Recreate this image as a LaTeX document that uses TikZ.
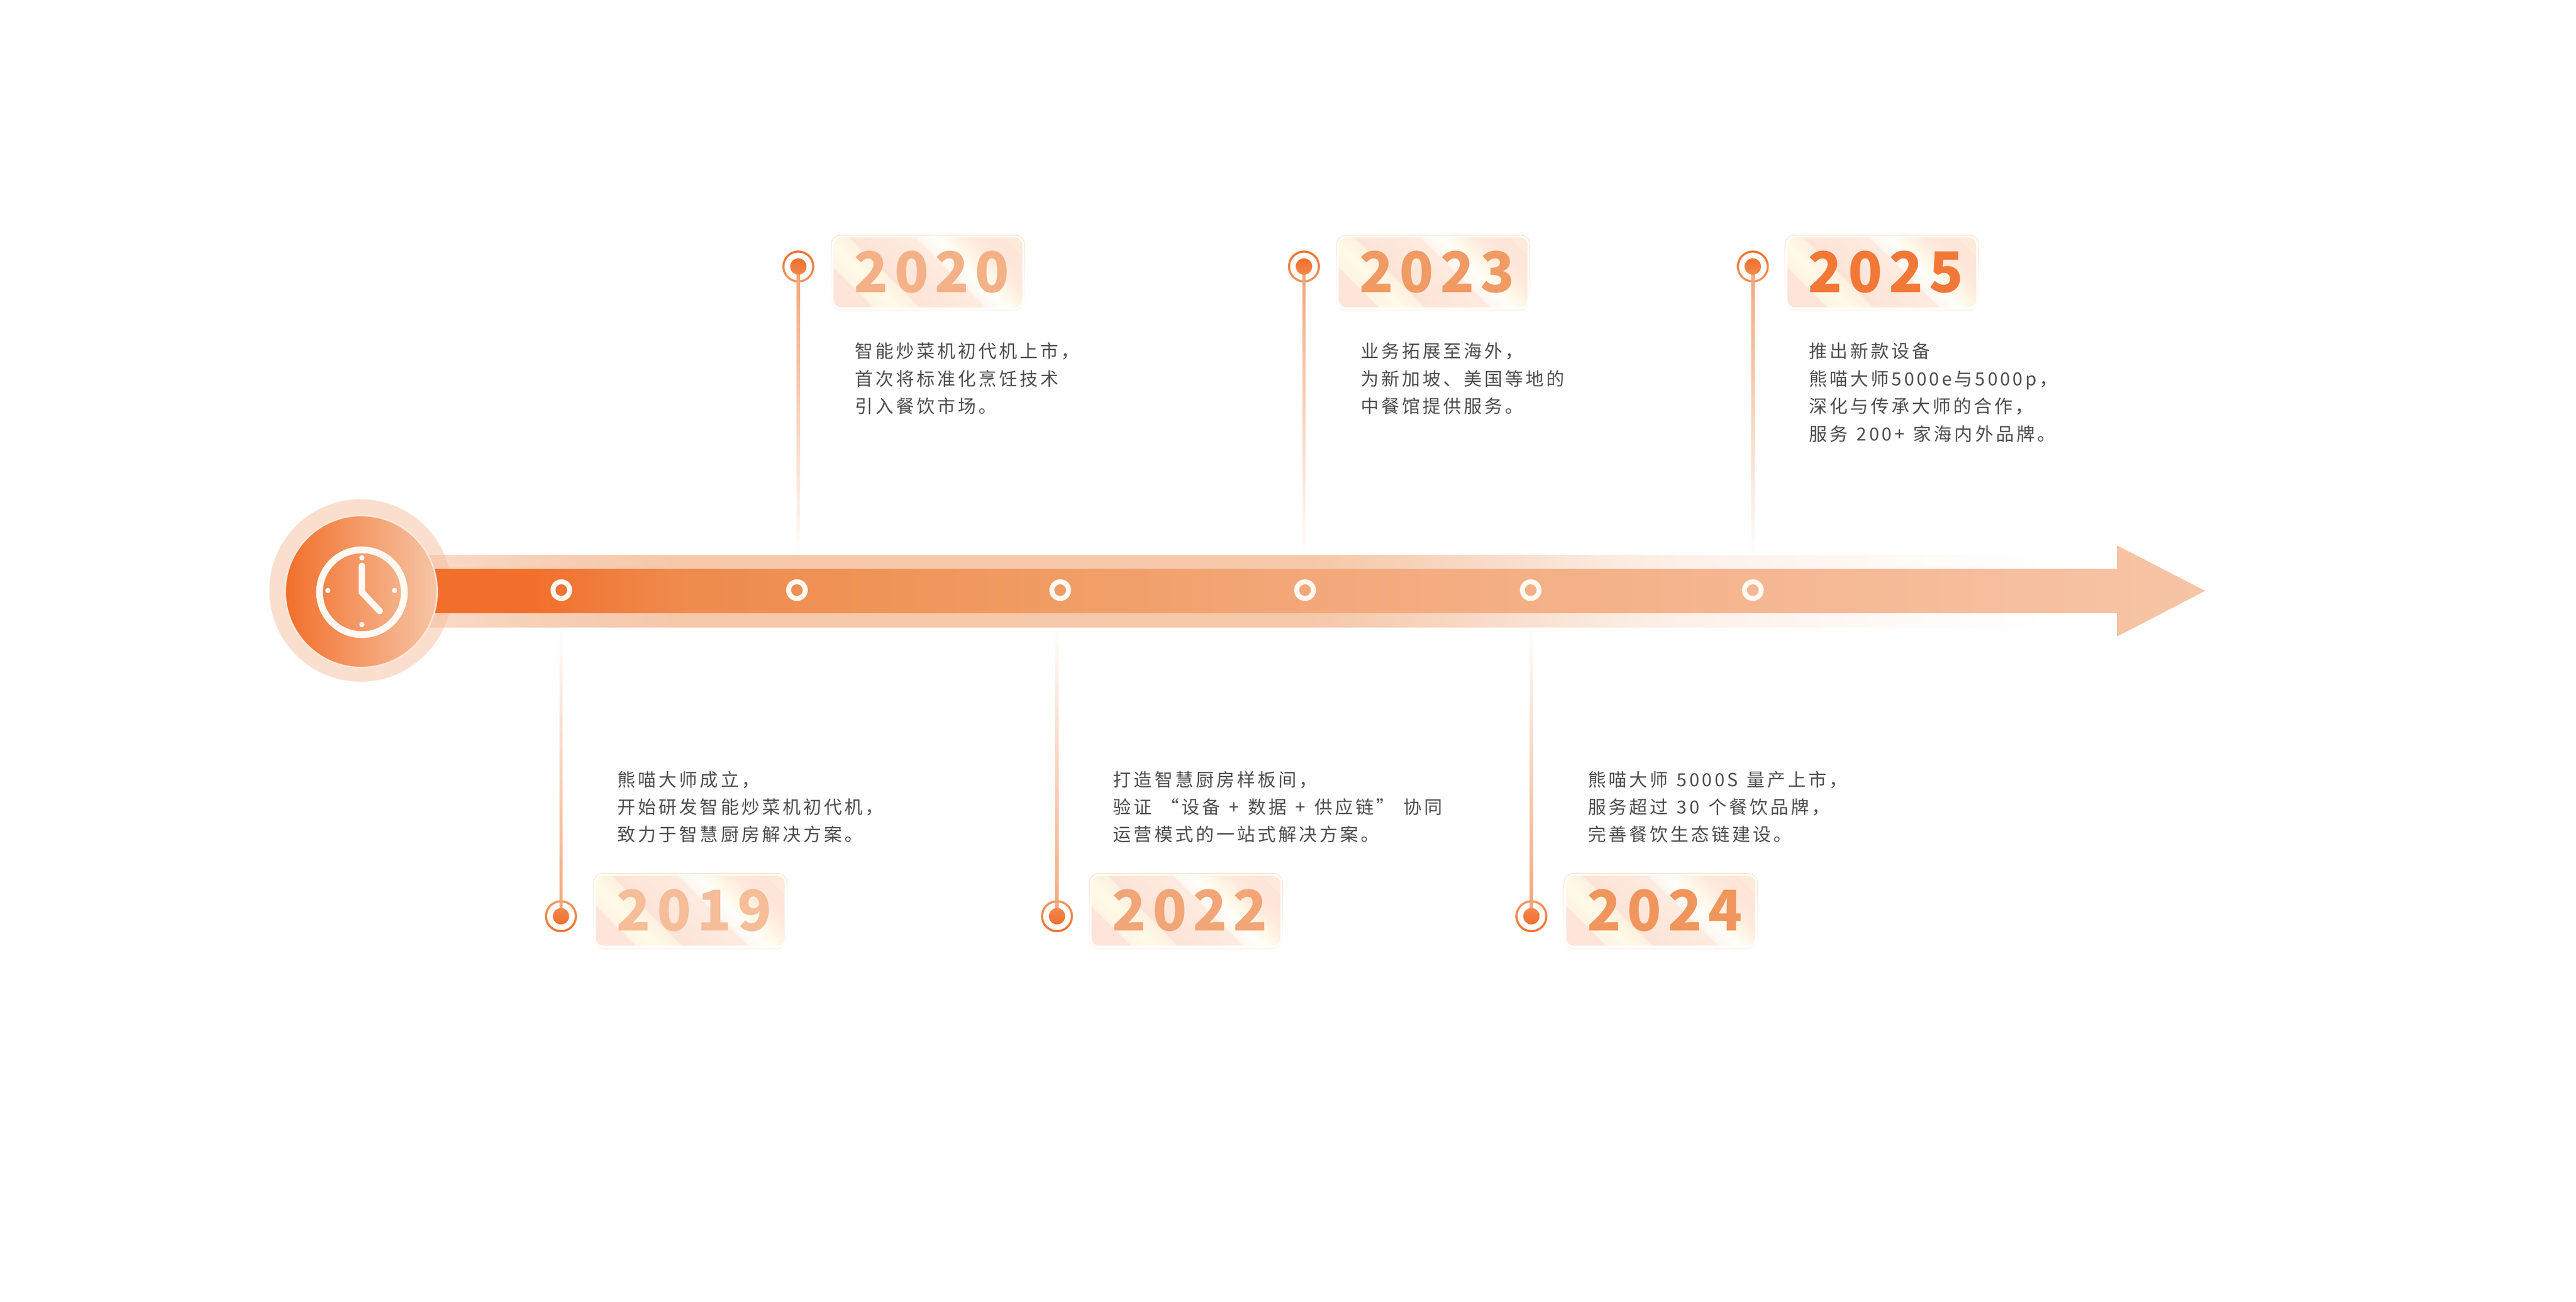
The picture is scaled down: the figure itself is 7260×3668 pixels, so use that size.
\documentclass[tikz,border=0pt]{standalone}
\usepackage{fontspec}
\usepackage{xcolor}
\usetikzlibrary{calc}
\usetikzlibrary{fadings}
\usetikzlibrary{shadows}

\newfontfamily\cjk[LetterSpace=14,WordSpace=1.35]{Noto Sans CJK SC}
\newfontfamily\yearfont[LetterSpace=11]{Noto Sans CJK SC}

\definecolor{ink}{HTML}{4D4D4D}
\definecolor{cream}{HTML}{FEF9F2}
\definecolor{deep}{HTML}{F26F2B}
\definecolor{stemc}{HTML}{F3A476}
\definecolor{rimc}{HTML}{FAC39B}
\definecolor{ringsoft}{HTML}{F29660}
\definecolor{dotsoft}{HTML}{F0884D}

\definecolor{ma}{HTML}{F26F2B}
\definecolor{mb}{HTML}{EE8A4C}
\definecolor{mc}{HTML}{F09B62}
\definecolor{md}{HTML}{F3A87A}
\definecolor{me}{HTML}{F5B690}
\definecolor{mf}{HTML}{F6C5A6}
\pgfdeclarehorizontalshading{mainband}{100bp}{color(0bp)=(ma); color(27.8bp)=(ma); color(31.8bp)=(mb); color(41.8bp)=(mc); color(49.8bp)=(md); color(61.8bp)=(me); color(75bp)=(mf); color(100bp)=(mf)}

\definecolor{la}{HTML}{F9DAC8}
\definecolor{lb}{HTML}{F7D0B8}
\definecolor{lc}{HTML}{F5C8A9}
\definecolor{ld}{HTML}{F7D3BB}
\definecolor{le}{HTML}{F9E0D0}
\definecolor{lf}{HTML}{FBEDE3}
\definecolor{lg}{HTML}{FDF3EE}
\definecolor{lh}{HTML}{FEF9F6}
\pgfdeclarehorizontalshading{softband}{100bp}{color(0bp)=(la); color(25bp)=(la); color(28.2bp)=(lb); color(32.6bp)=(lc); color(52.2bp)=(lc); color(55.5bp)=(ld); color(58.8bp)=(le); color(62.1bp)=(lf); color(65.3bp)=(lg); color(69.7bp)=(lh); color(75bp)=(white); color(100bp)=(white)}

\definecolor{ga}{HTML}{FEE4D9}
\definecolor{gb}{HTML}{FFF4E3}
\definecolor{gc}{HTML}{FFFAE7}
\definecolor{gd}{HTML}{FEF0DF}
\definecolor{ge}{HTML}{FDE3D7}
\definecolor{gf}{HTML}{FEEBDF}
\definecolor{gg}{HTML}{FDF6EF}
\definecolor{gh}{HTML}{FFFEFA}
\definecolor{gi}{HTML}{FFF8E8}
\definecolor{gj}{HTML}{FEE9DC}
\definecolor{gk}{HTML}{FEE5D7}
\definecolor{gl}{HTML}{FEEAD8}
\pgfdeclarehorizontalshading{boxgloss}{100bp}{color(0bp)=(ga); color(35bp)=(ga); color(35.1bp)=(gb); color(38.9bp)=(gc); color(42.7bp)=(gd); color(42.8bp)=(ge); color(53.7bp)=(gf); color(53.8bp)=(gg); color(56.9bp)=(gh); color(59.5bp)=(gi); color(63.1bp)=(gj); color(68.4bp)=(gk); color(68.5bp)=(gl); color(100bp)=(gl)}

\tikzfading[name=stemdown, top color=transparent!0, middle color=transparent!45, bottom color=transparent!100]
\tikzfading[name=stemup, top color=transparent!100, middle color=transparent!45, bottom color=transparent!0]
\tikzfading[name=rimfade, top color=transparent!0, middle color=transparent!100, bottom color=transparent!100]

\tikzset{
  hubring/.style={circle, minimum size=5.14cm, inner sep=0, fill={rgb,255:red,245;green,188;blue,155}, fill opacity=.48},
  hubdisc/.style={circle, minimum size=4.28cm, inner sep=0, left color=deep, right color=mf, draw={rgb,255:red,251;green,232;blue,218}, line width=.04cm},
  clockline/.style={draw=cream, line width=.18cm},
  clocktick/.style={fill=cream},
  banddot/.style={circle, minimum size=.47cm, inner sep=0, draw=cream, line width=.14cm},
  ringtop/.style={circle, minimum size=.9cm, inner sep=0, top color=deep, bottom color=ringsoft, path picture={\fill[white] (path picture bounding box.center) circle (39);}},
  ringlow/.style={circle, minimum size=.9cm, inner sep=0, top color=ringsoft, bottom color=deep, path picture={\fill[white] (path picture bounding box.center) circle (39);}},
  dottop/.style={circle, minimum size=.46cm, inner sep=0, top color=deep, bottom color=dotsoft},
  dotlow/.style={circle, minimum size=.46cm, inner sep=0, top color=dotsoft, bottom color=deep},
  stemline/.style={draw=stemc, line width=.096cm},
  yearbox/.style={rectangle, rounded corners=.24cm, minimum width=5.38cm, minimum height=2.03cm, inner sep=0, draw=white, line width=.06cm, fill=ga,
    drop shadow={shadow xshift=0cm, shadow yshift=-.08cm, fill=ge, opacity=.25},
    drop shadow={shadow xshift=0cm, shadow yshift=-.04cm, fill=ge, opacity=.4},
    preaction={draw=rimc, line width=.08cm, path fading=rimfade},
    path picture={\shade[shading=boxgloss, shading angle=45] ($(path picture bounding box.center)+(-300,-300)$) rectangle ($(path picture bounding box.center)+(300,300)$);},
    font=\yearfont\bfseries\fontsize{45}{50}\selectfont, text height=1.224cm, text depth=.1cm, execute at begin node={\hspace*{.22cm}}},
  desc/.style={anchor=base west, inner sep=0, align=left, text=ink, font=\cjk\fontsize{14.5}{22.05}\selectfont},
}

\begin{document}
\begin{tikzpicture}[x=.01cm,y=-.01cm]
\useasboundingbox (0,0) rectangle (7260,3668);

\coordinate (e2019) at (1581,1768);
\coordinate (e2020) at (2250,1565);
\coordinate (e2022) at (2979,1768);
\coordinate (e2023) at (3675,1565);
\coordinate (e2024) at (4316,1768);
\coordinate (e2025) at (4940,1565);

\node[ringlow] (r2019) at (1581,2582) {};
\node[ringtop] (r2020) at (2250,751) {};
\node[ringlow] (r2022) at (2979,2582) {};
\node[ringtop] (r2023) at (3675,751) {};
\node[ringlow] (r2024) at (4316,2582) {};
\node[ringtop] (r2025) at (4940,751) {};

\draw[stemline, path fading=stemup] (r2019.center) -- (e2019) ($(r2019.center)+(-5,0)$) -- ($(r2019.center)+(5,0)$);
\draw[stemline, path fading=stemdown] (r2020.center) -- (e2020) ($(r2020.center)+(-5,0)$) -- ($(r2020.center)+(5,0)$);
\draw[stemline, path fading=stemup] (r2022.center) -- (e2022) ($(r2022.center)+(-5,0)$) -- ($(r2022.center)+(5,0)$);
\draw[stemline, path fading=stemdown] (r2023.center) -- (e2023) ($(r2023.center)+(-5,0)$) -- ($(r2023.center)+(5,0)$);
\draw[stemline, path fading=stemup] (r2024.center) -- (e2024) ($(r2024.center)+(-5,0)$) -- ($(r2024.center)+(5,0)$);
\draw[stemline, path fading=stemdown] (r2025.center) -- (e2025) ($(r2025.center)+(-5,0)$) -- ($(r2025.center)+(5,0)$);

\node[dotlow] (m2019) at (r2019.center) {};
\node[dottop] (m2020) at (r2020.center) {};
\node[dotlow] (m2022) at (r2022.center) {};
\node[dottop] (m2023) at (r2023.center) {};
\node[dotlow] (m2024) at (r2024.center) {};
\node[dottop] (m2025) at (r2025.center) {};

\shade[shading=softband] (1209,1565) rectangle (5783,1768);
\node[hubring] (hubout) at (1016,1664) {};
\shade[shading=mainband] (1220,1603) -- (5966,1603) -- (5966,1537) -- (6215,1665) -- (5966,1794) -- (5966,1728) -- (1220,1728) -- cycle;
\node[hubdisc] (hub) at (1018,1667) {};

\draw[clockline, line width=.19cm] (1020,1669) circle (119.5);
\draw[clockline, line cap=round, line join=miter] (1020,1595) -- (1020,1669) -- (1070,1722);
\fill[clocktick] (1020,1572) circle (7.5);
\fill[clocktick] (1020,1760) circle (7.5);
\fill[clocktick] (924,1664) circle (7.5);
\fill[clocktick] (1112,1664) circle (7.5);

\node[banddot] (d2019) at (1582,1663) {};
\node[banddot] (d2020) at (2246,1663) {};
\node[banddot] (d2022) at (2988,1663) {};
\node[banddot] (d2023) at (3678,1663) {};
\node[banddot] (d2024) at (4314,1663) {};
\node[banddot] (d2025) at (4940,1663) {};

\node[yearbox, text={rgb,255:red,245;green,189;blue,152}] (b2019) at (1945.5,2566.5) {2019};
\node[yearbox, text={rgb,255:red,244;green,176;blue,134}] (b2020) at (2615,767.5) {2020};
\node[yearbox, text={rgb,255:red,242;green,165;blue,118}] (b2022) at (3342.5,2566.5) {2022};
\node[yearbox, text={rgb,255:red,241;green,155;blue,100}] (b2023) at (4039,767.5) {2023};
\node[yearbox, text={rgb,255:red,240;green,150;blue,92}] (b2024) at (4680.5,2566.5) {2024};
\node[yearbox, text={rgb,255:red,242;green,120;blue,55}] (b2025) at (5303.5,767.5) {2025};

\node[desc] (t2019) at (1740,2371) {熊喵大师成立，\\开始研发智能炒菜机初代机，\\致力于智慧厨房解决方案。};
\node[desc] (t2020) at (2409,1164) {智能炒菜机初代机上市，\\首次将标准化烹饪技术\\引入餐饮市场。};
\node[desc] (t2022) at (3137,2371) {打造智慧厨房样板间，\\验证 “设备 + 数据 + 供应链” 协同\\运营模式的一站式解决方案。};
\node[desc] (t2023) at (3834,1164) {业务拓展至海外，\\为新加坡、美国等地的\\中餐馆提供服务。};
\node[desc] (t2024) at (4475,2371) {熊喵大师 5000S 量产上市，\\服务超过 30 个餐饮品牌，\\完善餐饮生态链建设。};
\node[desc] (t2025) at (5098,1241.5) {推出新款设备\\熊喵大师5000e与5000p，\\深化与传承大师的合作，\\服务 200+ 家海内外品牌。};

\end{tikzpicture}
\end{document}
